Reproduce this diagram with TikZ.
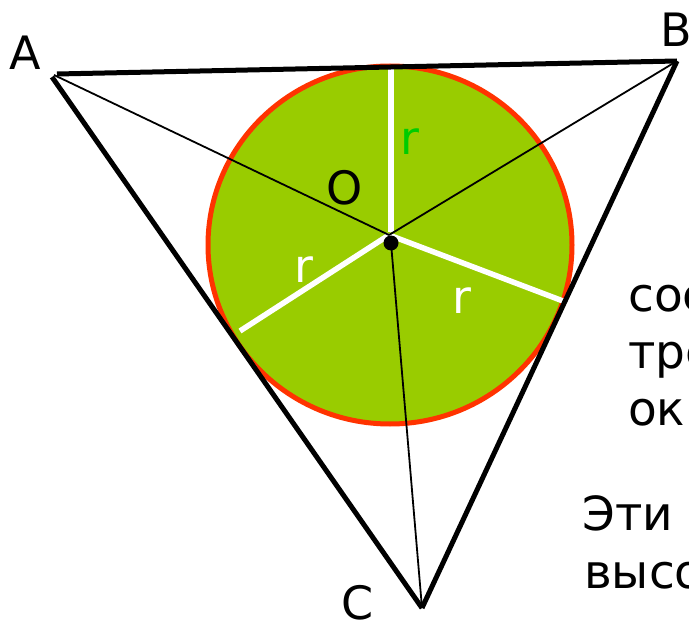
\documentclass[tikz,border=0pt]{standalone}
\usepackage{fontspec}
\setmainfont{DejaVu Sans}
\definecolor{fillgreen}{HTML}{99CC00}
\definecolor{rimred}{HTML}{FF3300}
\definecolor{labgreen}{HTML}{00CC00}
\begin{document}
\begin{tikzpicture}[x=1pt,y=-1pt,
  side/.style={line width=5pt,black},
  thin/.style={line width=1.8pt,black},
  radius line/.style={line width=5.5pt,white},
  lab/.style={font=\fontsize{46}{50}\selectfont,inner sep=0pt,anchor=base},
  txt/.style={font=\fontsize{47}{50}\selectfont,inner sep=0pt,anchor=base west}]
\clip (0,0) rectangle (689,623);
\fill[white] (0,0) rectangle (689,623);
\coordinate (A) at (54,75);
\coordinate (B) at (677,61);
\coordinate (C) at (422,608);
\coordinate (O) at (389,235);
\coordinate (Otop) at (391,232);
\coordinate (T1) at (391,68);
\coordinate (T2) at (240,331);
\coordinate (T3) at (563,301);
\coordinate (D) at (391,243);
% incircle
\draw[fill=fillgreen,draw=rimred,line width=5pt] (390,245) ellipse [x radius=182,y radius=179];
% white radii
\draw[radius line] (Otop) -- (T1);
\draw[radius line] (O) -- (T2);
\draw[radius line] (O) -- (T3);
% bisectors
\draw[thin] (A) -- (O);
\draw[thin] (B) -- (O);
\draw[thin] (C) -- (D);
\fill[black] (D) circle (7.5);
% triangle sides
\draw[side] (57,74) -- (B);
\draw[side] (52,77) -- (C);
\draw[side] (B) -- (C);
% labels
\node[lab] (la) at (25,70) {A};
\node[lab] (lb) at (676,47) {B};
\node[lab] (lc) at (358,619) {C};
\node[lab] (lo) at (345,205) {O};
\node[lab,text=labgreen] (r1) at (410,155) {r};
\node[lab,text=white] (r2) at (304,283) {r};
\node[lab,text=white] (r3) at (462,313) {r};
% right text (cut at the edge, as in the reference)
\node[txt] (t1) at (628,312) {сос};
\node[txt] (t2) at (628,368) {тре};
\node[txt] (t3) at (628,425) {ок};
\node[txt] (t4) at (582,530) {Эти};
\node[txt] (t5) at (584,588) {высо};
\end{tikzpicture}
\end{document}
